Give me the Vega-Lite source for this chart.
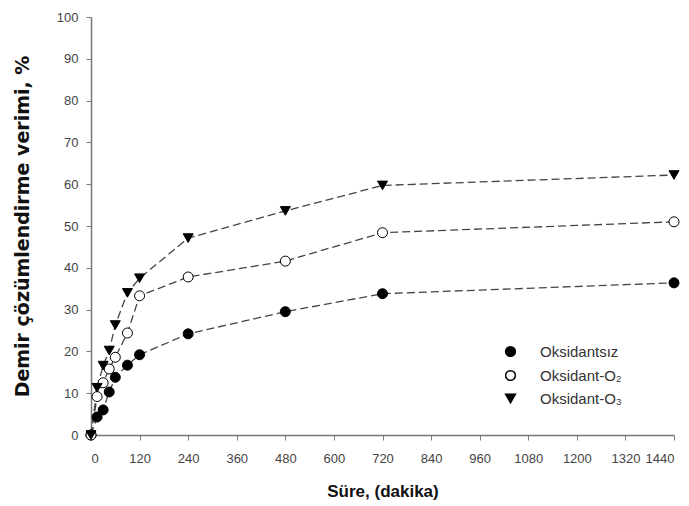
{
 "$schema": "https://vega.github.io/schema/vega-lite/v6.json",
 "width": 583, "height": 418,
 "autosize": {"type": "none"},
 "padding": {"left": 91, "top": 17, "right": 15, "bottom": 71},
 "config": {"view": {"stroke": null}, "font": "Liberation Sans",
  "axis": {"grid": false, "domainColor": "#777", "domainWidth": 1.5, "tickColor": "#777", "tickSize": 5, "labelColor": "#444", "labelFontSize": 13, "titleFontSize": 17, "titleFontWeight": "bold", "titleColor": "#111"}},
 "data": {"values": [
  {"s": "Oksidantsız", "t": 0, "y": 0},
  {"s": "Oksidantsız", "t": 15, "y": 4.3},
  {"s": "Oksidantsız", "t": 30, "y": 6.0},
  {"s": "Oksidantsız", "t": 45, "y": 10.3},
  {"s": "Oksidantsız", "t": 60, "y": 13.8},
  {"s": "Oksidantsız", "t": 90, "y": 16.7},
  {"s": "Oksidantsız", "t": 120, "y": 19.2},
  {"s": "Oksidantsız", "t": 240, "y": 24.2},
  {"s": "Oksidantsız", "t": 480, "y": 29.5},
  {"s": "Oksidantsız", "t": 720, "y": 33.8},
  {"s": "Oksidantsız", "t": 1440, "y": 36.4},
  {"s": "Oksidant-O₂", "t": 0, "y": 0},
  {"s": "Oksidant-O₂", "t": 15, "y": 9.2},
  {"s": "Oksidant-O₂", "t": 30, "y": 12.5},
  {"s": "Oksidant-O₂", "t": 45, "y": 15.8},
  {"s": "Oksidant-O₂", "t": 60, "y": 18.6},
  {"s": "Oksidant-O₂", "t": 90, "y": 24.4},
  {"s": "Oksidant-O₂", "t": 120, "y": 33.3},
  {"s": "Oksidant-O₂", "t": 240, "y": 37.8},
  {"s": "Oksidant-O₂", "t": 480, "y": 41.6},
  {"s": "Oksidant-O₂", "t": 720, "y": 48.4},
  {"s": "Oksidant-O₂", "t": 1440, "y": 51.0},
  {"s": "Oksidant-O₃", "t": 0, "y": 0},
  {"s": "Oksidant-O₃", "t": 15, "y": 11.3},
  {"s": "Oksidant-O₃", "t": 30, "y": 16.6},
  {"s": "Oksidant-O₃", "t": 45, "y": 20.2},
  {"s": "Oksidant-O₃", "t": 60, "y": 26.3},
  {"s": "Oksidant-O₃", "t": 90, "y": 34.0},
  {"s": "Oksidant-O₃", "t": 120, "y": 37.5},
  {"s": "Oksidant-O₃", "t": 240, "y": 47.1},
  {"s": "Oksidant-O₃", "t": 480, "y": 53.6},
  {"s": "Oksidant-O₃", "t": 720, "y": 59.7},
  {"s": "Oksidant-O₃", "t": 1440, "y": 62.2}
 ]},
 "layer": [
  {"mark": {"type": "line", "strokeDash": [8, 4], "color": "#444", "strokeWidth": 1.3},
   "encoding": {
    "x": {"field": "t", "type": "quantitative", "scale": {"domain": [0, 1440], "nice": false},
      "axis": {"values": [0,120,240,360,480,600,720,840,960,1080,1200,1320,1440], "format": "d", "title": "Süre, (dakika)", "titlePadding": 18, "labelPadding": 12}},
    "y": {"field": "y", "type": "quantitative", "scale": {"domain": [0, 100], "nice": false},
      "axis": {"values": [0,10,20,30,40,50,60,70,80,90,100], "title": "Demir çözümlendirme verimi, %", "titleFont": "DejaVu Sans", "titleFontSize": 19, "titlePadding": 24, "labelPadding": 8}},
    "detail": {"field": "s"}
   }},
  {"mark": {"type": "point", "stroke": "black", "strokeWidth": 1, "opacity": 1, "size": 100},
   "encoding": {
    "x": {"field": "t", "type": "quantitative"},
    "y": {"field": "y", "type": "quantitative"},
    "shape": {"field": "s", "type": "nominal", "title": null,
      "scale": {"domain": ["Oksidantsız", "Oksidant-O₂", "Oksidant-O₃"], "range": ["circle", "circle", "triangle-down"]},
      "legend": {"orient": "none", "legendX": 412, "legendY": 327, "labelFontSize": 15, "labelColor": "#333", "symbolSize": 95, "rowPadding": 7, "labelOffset": 22,
        "encode": {"symbols": {"update": {"stroke": {"value": "black"}, "strokeWidth": {"value": 1}}}}}},
    "fill": {"field": "s", "type": "nominal", "title": null,
      "scale": {"domain": ["Oksidantsız", "Oksidant-O₂", "Oksidant-O₃"], "range": ["black", "white", "black"]}}
   }}
 ]
}
